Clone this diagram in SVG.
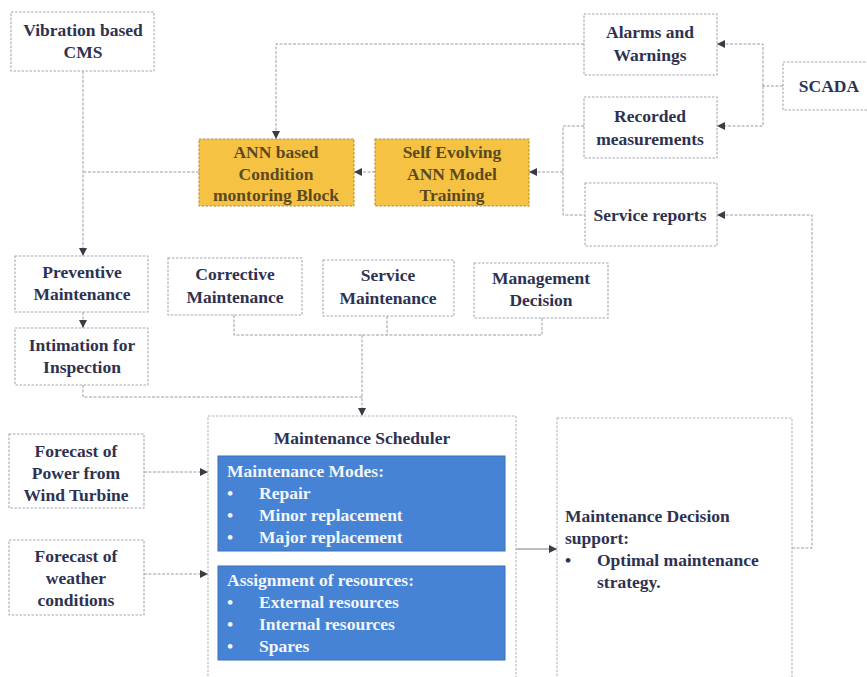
<svg xmlns="http://www.w3.org/2000/svg" width="867" height="677" viewBox="0 0 867 677">
  <style>
    text { font-family: "Liberation Serif", "Times New Roman", serif; font-weight: bold; font-size: 17.5px; fill: #2e3250; }
    .c { text-anchor: middle; }
    .box { fill: #ffffff; stroke: #a6a8b2; stroke-width: 1.1; stroke-dasharray: 2.5 1.5; }
    .big { stroke: #b4b6be; }
    .ybox { fill: #f6c244; stroke: #b8902e; stroke-width: 1.1; stroke-dasharray: 2.5 1.5; }
    .ytxt { fill: #5c4a1e; }
    .bbox { fill: #4683d4; stroke: #3a6fb8; stroke-width: 1; }
    .btxt { fill: #f2f5fb; }
    .conn { fill: none; stroke: #9a9ca4; stroke-width: 1; stroke-dasharray: 3 1.5; }
    .arr { fill: none; stroke: #9a9ca4; stroke-width: 1; stroke-dasharray: 3 1.5; marker-end: url(#head); }
    .solid { stroke: #7a7c84; stroke-dasharray: none; }
  </style>
  <defs>
    <marker id="head" viewBox="0 0 10 10" refX="10" refY="5" markerWidth="8" markerHeight="8" markerUnits="userSpaceOnUse" orient="auto">
      <path d="M0,0 L10,5 L0,10 z" fill="#3a3c44"/>
    </marker>
  </defs>
  <rect width="867" height="677" fill="#ffffff"/>

  <!-- connectors -->
  <g id="connectors">
    <path class="arr" d="M83,71 V256"/>
    <path class="conn" d="M199,172 H83"/>
    <path class="arr" d="M584,44 H276 V139"/>
    <path class="conn" d="M783,86 H763"/>
    <path class="arr" d="M763,86 V44 H717"/>
    <path class="arr" d="M763,86 V126 H717"/>
    <path class="conn" d="M584,126 H563 V215 H585"/>
    <path class="arr" d="M563,172 H529"/>
    <path class="arr" d="M375,172 H354"/>
    <path class="arr" d="M83,312 V328"/>
    <path class="conn" d="M83,385 V397 H362"/>
    <path class="conn" d="M234,315 V335 H542 V318"/>
    <path class="conn" d="M387,316 V335"/>
    <path class="arr" d="M362,335 V416"/>
    <path class="arr" d="M144,472 H208"/>
    <path class="arr" d="M144,574 H208"/>
    <path class="arr solid" d="M516,549 H557"/>
    <path class="arr" d="M792,548 H812 V215 H717"/>
  </g>

  <g id="vibration-cms">
    <rect class="box" x="11" y="12" width="143" height="59"/>
    <text class="c" x="83" y="36">Vibration based</text>
    <text class="c" x="83" y="58">CMS</text>
  </g>

  <g id="alarms">
    <rect class="box" x="584" y="14" width="133" height="61"/>
    <text class="c" x="650" y="38">Alarms and</text>
    <text class="c" x="650" y="61">Warnings</text>
  </g>

  <g id="scada">
    <rect class="box" x="783" y="62" width="90" height="48"/>
    <text class="c" x="829" y="92">SCADA</text>
  </g>

  <g id="recorded">
    <rect class="box" x="584" y="97" width="133" height="61"/>
    <text class="c" x="650" y="122">Recorded</text>
    <text class="c" x="650" y="145">measurements</text>
  </g>

  <g id="ann-block">
    <rect class="ybox" x="199" y="139" width="155" height="67"/>
    <text class="c ytxt" x="276" y="158">ANN based</text>
    <text class="c ytxt" x="276" y="180">Condition</text>
    <text class="c ytxt" x="276" y="201">montoring Block</text>
  </g>

  <g id="ann-training">
    <rect class="ybox" x="375" y="139" width="154" height="67"/>
    <text class="c ytxt" x="452" y="158">Self Evolving</text>
    <text class="c ytxt" x="452" y="180">ANN Model</text>
    <text class="c ytxt" x="452" y="201">Training</text>
  </g>

  <g id="service-reports">
    <rect class="box" x="585" y="183" width="132" height="63"/>
    <text class="c" x="650" y="221">Service reports</text>
  </g>

  <g id="preventive">
    <rect class="box" x="15" y="256" width="133" height="56"/>
    <text class="c" x="82" y="278">Preventive</text>
    <text class="c" x="82" y="300">Maintenance</text>
  </g>

  <g id="corrective">
    <rect class="box" x="168" y="258" width="134" height="57"/>
    <text class="c" x="235" y="280">Corrective</text>
    <text class="c" x="235" y="303">Maintenance</text>
  </g>

  <g id="service-maintenance">
    <rect class="box" x="323" y="260" width="131" height="56"/>
    <text class="c" x="388" y="281">Service</text>
    <text class="c" x="388" y="304">Maintenance</text>
  </g>

  <g id="management">
    <rect class="box" x="474" y="263" width="134" height="55"/>
    <text class="c" x="541" y="284">Management</text>
    <text class="c" x="541" y="306">Decision</text>
  </g>

  <g id="intimation">
    <rect class="box" x="15" y="328" width="133" height="57"/>
    <text class="c" x="82" y="351">Intimation for</text>
    <text class="c" x="82" y="373">Inspection</text>
  </g>

  <g id="forecast-power">
    <rect class="box" x="9" y="434" width="135" height="74"/>
    <text class="c" x="76" y="457">Forecast of</text>
    <text class="c" x="76" y="479">Power from</text>
    <text class="c" x="76" y="501">Wind Turbine</text>
  </g>

  <g id="forecast-weather">
    <rect class="box" x="9" y="540" width="135" height="75"/>
    <text class="c" x="76" y="562">Forecast of</text>
    <text class="c" x="76" y="584">weather</text>
    <text class="c" x="76" y="606">conditions</text>
  </g>

  <g id="scheduler">
    <rect class="box big" x="208" y="416" width="308" height="280"/>
    <text class="c" x="362" y="444">Maintenance Scheduler</text>
    <rect class="bbox" x="218" y="456" width="287" height="95"/>
    <text class="btxt" x="227" y="477">Maintenance Modes:</text>
    <text class="btxt" x="227" y="499">•</text>
    <text class="btxt" x="259" y="499">Repair</text>
    <text class="btxt" x="227" y="521">•</text>
    <text class="btxt" x="259" y="521">Minor replacement</text>
    <text class="btxt" x="227" y="543">•</text>
    <text class="btxt" x="259" y="543">Major replacement</text>
    <rect class="bbox" x="218" y="566" width="287" height="94"/>
    <text class="btxt" x="227" y="586">Assignment of resources:</text>
    <text class="btxt" x="227" y="608">•</text>
    <text class="btxt" x="259" y="608">External resources</text>
    <text class="btxt" x="227" y="630">•</text>
    <text class="btxt" x="259" y="630">Internal resources</text>
    <text class="btxt" x="227" y="652">•</text>
    <text class="btxt" x="259" y="652">Spares</text>
  </g>

  <g id="decision-support">
    <rect class="box big" x="557" y="418" width="235" height="280"/>
    <text x="565" y="522">Maintenance Decision</text>
    <text x="565" y="544">support:</text>
    <text x="565" y="566">•</text>
    <text x="597" y="566">Optimal maintenance</text>
    <text x="597" y="588">strategy.</text>
  </g>
</svg>
